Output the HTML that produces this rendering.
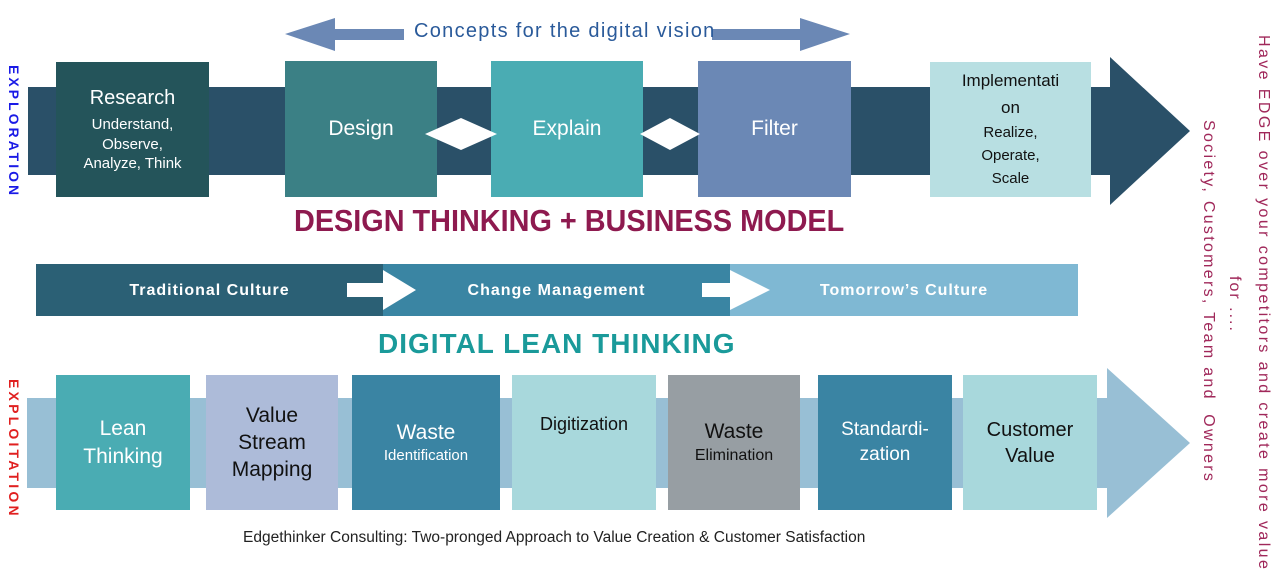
<!DOCTYPE html>
<html><head><meta charset="utf-8"><style>
body{margin:0;width:1280px;height:578px;background:#fff;position:relative;overflow:hidden;font-family:"Liberation Sans",sans-serif}
.b{position:absolute;display:flex;flex-direction:column;align-items:center;justify-content:center;text-align:center;color:#fff;box-sizing:border-box;line-height:1.3}
.t{position:absolute;white-space:nowrap}
.v{position:absolute;white-space:nowrap;transform-origin:0 0}
</style></head><body>
<svg width="1280" height="578" style="position:absolute;left:0;top:0">
<polygon points="28,87 1110,87 1110,57 1190,131 1110,205 1110,175 28,175" fill="#2a5068"/>
<polygon points="27,398 1107,398 1107,368 1190,443 1107,518 1107,488 27,488" fill="#98bfd5"/>
<polygon points="285,34 335,18 335,29 404,29 404,40 335,40 335,51" fill="#6b88b5"/>
<polygon points="850,34 800,18 800,29 712,29 712,40 800,40 800,51" fill="#6b88b5"/>
<rect x="36" y="264" width="347" height="52" fill="#2b6075"/>
<rect x="383" y="264" width="347" height="52" fill="#3a85a3"/>
<rect x="730" y="264" width="348" height="52" fill="#7fb8d3"/>
<polygon points="347,283 383,283 383,270 416,290 383,310 383,297 347,297" fill="#fff"/>
<polygon points="702,283 730,283 730,270 770,290 730,310 730,297 702,297" fill="#fff"/>
</svg>
<div class="b" style="left:56px;top:62px;width:153px;height:135px;background:#24545a;font-size:15px"><div style="font-size:20px;margin-bottom:4px">Research</div>Understand,<br>Observe,<br>Analyze, Think</div>
<div class="b" style="left:285px;top:61px;width:152px;height:136px;background:#3b8085;font-size:21px">Design</div>
<div class="b" style="left:491px;top:61px;width:152px;height:136px;background:#4aacb3;font-size:21px">Explain</div>
<div class="b" style="left:698px;top:61px;width:153px;height:136px;background:#6b88b5;font-size:21px">Filter</div>
<div class="b" style="left:930px;top:62px;width:161px;height:135px;background:#b8dfe2;color:#111;font-size:15px;line-height:1.55"><div style="font-size:17px">Implementati<br>on</div>Realize,<br>Operate,<br>Scale</div>
<svg width="1280" height="200" style="position:absolute;left:0;top:0">
<polygon points="425,134 461,118 497,134 461,150" fill="#fff"/>
<polygon points="640,134 670,118 700,134 670,150" fill="#fff"/>
</svg>
<div class="t" style="left:414px;top:20px;font-size:20px;color:#2a5a9a;letter-spacing:1.3px">Concepts for the digital vision</div>
<div class="t" style="left:294px;top:203px;font-size:31px;font-weight:bold;color:#8e1a4f"><span style="display:inline-block;transform:scaleX(0.93);transform-origin:0 0">DESIGN THINKING + BUSINESS MODEL</span></div>
<div class="t" style="left:36px;top:282px;width:347px;text-align:center;font-size:16px;font-weight:bold;color:#fff;letter-spacing:1px">Traditional Culture</div>
<div class="t" style="left:383px;top:282px;width:347px;text-align:center;font-size:16px;font-weight:bold;color:#fff;letter-spacing:1px">Change Management</div>
<div class="t" style="left:730px;top:282px;width:348px;text-align:center;font-size:16px;font-weight:bold;color:#fff;letter-spacing:1px">Tomorrow’s Culture</div>
<div class="t" style="left:378px;top:328px;width:356px;text-align:center;font-size:28px;font-weight:bold;color:#1a9a9a;letter-spacing:1px">DIGITAL LEAN THINKING</div>
<div class="b" style="left:56px;top:375px;width:134px;height:135px;background:#4aacb3;font-size:21px">Lean<br>Thinking</div>
<div class="b" style="left:206px;top:375px;width:132px;height:135px;background:#adbbd9;color:#111;font-size:21px">Value<br>Stream<br>Mapping</div>
<div class="b" style="left:352px;top:375px;width:148px;height:135px;background:#3a84a3;font-size:15px"><div style="font-size:21px">Waste</div>Identification</div>
<div class="b" style="left:512px;top:375px;width:144px;height:135px;background:#a8d8dc;color:#111;font-size:18px;justify-content:flex-start;padding-top:38px">Digitization</div>
<div class="b" style="left:668px;top:375px;width:132px;height:135px;background:#979ea3;color:#111;font-size:16px"><div style="font-size:21px">Waste</div>Elimination</div>
<div class="b" style="left:818px;top:375px;width:134px;height:135px;background:#3a84a3;font-size:19px">Standardi-<br>zation</div>
<div class="b" style="left:963px;top:375px;width:134px;height:135px;background:#a8d8dc;color:#111;font-size:20px">Customer<br>Value</div>
<div class="t" style="left:243px;top:529px;font-size:15.5px;color:#222">Edgethinker Consulting: Two-pronged Approach to Value Creation &amp; Customer Satisfaction</div>
<div class="v" style="left:22px;top:65px;transform:rotate(90deg);font-size:14px;font-weight:bold;color:#1a1ae6;letter-spacing:3px">EXPLORATION</div>
<div class="v" style="left:22px;top:379px;transform:rotate(90deg);font-size:14px;font-weight:bold;color:#e02020;letter-spacing:3.2px">EXPLOITATION</div>
<div class="v" style="left:1272px;top:35px;transform:rotate(90deg);font-size:16px;color:#a0285a;letter-spacing:2.4px">Have EDGE over your competitors and create more value</div>
<div class="v" style="left:1243px;top:276px;transform:rotate(90deg);font-size:16px;color:#a0285a;letter-spacing:2px">for ....</div>
<div class="v" style="left:1217px;top:120px;transform:rotate(90deg);font-size:16px;color:#a0285a;letter-spacing:2.3px">Society, Customers, Team and&nbsp; Owners</div>
</body></html>
